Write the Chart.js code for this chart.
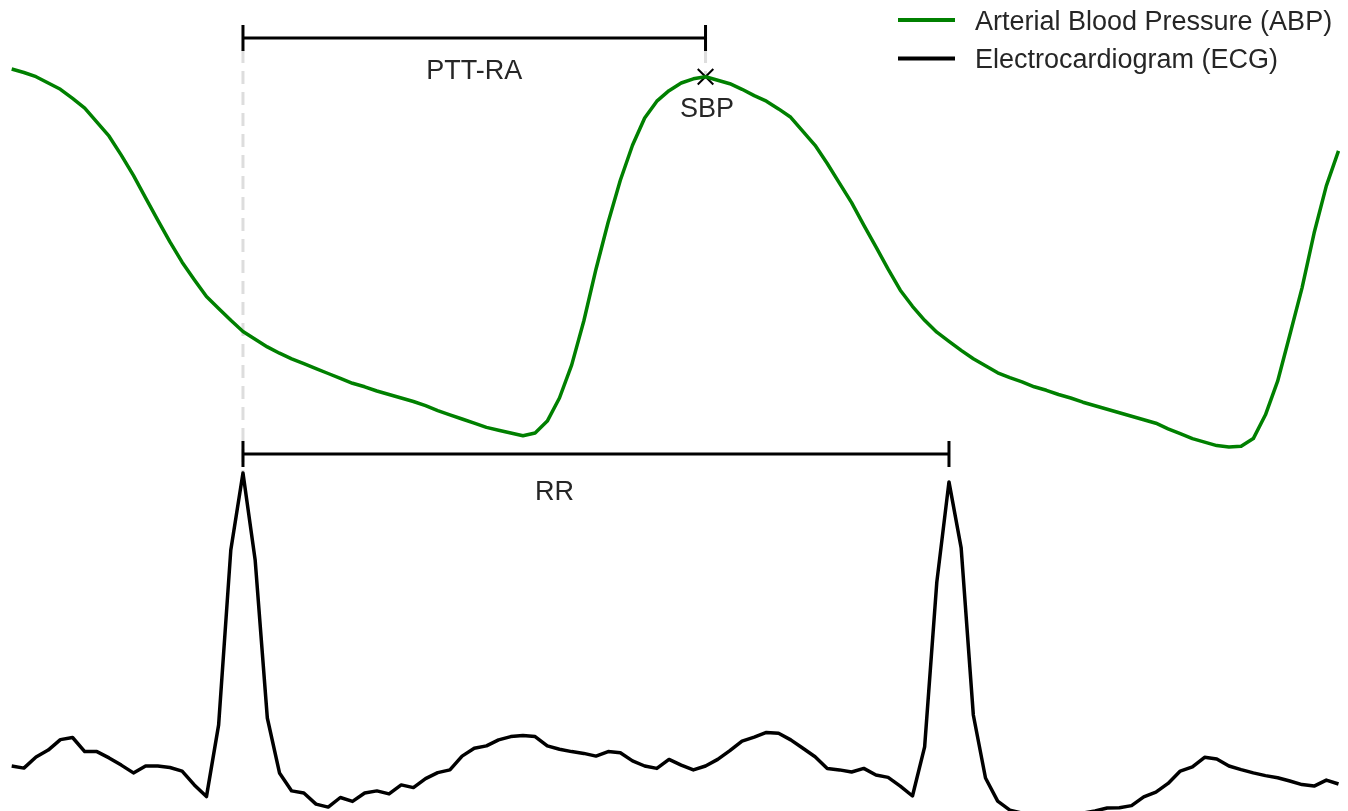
<!DOCTYPE html>
<html>
<head>
<meta charset="utf-8">
<script src="https://cdn.jsdelivr.net/npm/chart.js@4.4.1/dist/chart.umd.min.js"></script>
<style>
  html, body { margin: 0; padding: 0; background: #ffffff; }
  #wrap { width: 1348px; height: 811px; }
</style>
</head>
<body>
<div id="wrap"><canvas id="c" width="1348" height="811"></canvas></div>
<script>
// ---- Data ----
// Arterial blood pressure, mmHg (one value per sample)
const ABP = [
  126.0, 125.5, 124.9, 124.0, 123.1, 121.8, 120.4, 118.4, 116.4, 113.7,
  110.8, 107.6, 104.4, 101.3,  98.4,  95.9,  93.5,  91.8,  90.1,  88.5,
   87.4,  86.3,  85.4,  84.6,  83.9,  83.2,  82.5,  81.8,  81.1,  80.6,
   80.0,  79.5,  79.0,  78.5,  77.9,  77.2,  76.6,  76.0,  75.4,  74.8,
   74.4,  74.0,  73.6,  74.0,  75.7,  79.0,  83.7,  90.0,  97.4, 104.1,
  110.1, 115.1, 119.0, 121.4, 122.9, 124.0, 124.6, 124.9, 124.4, 123.9,
  123.1, 122.2, 121.4, 120.3, 119.1, 117.1, 115.1, 112.5, 109.7, 106.9,
  103.7, 100.6,  97.4,  94.4,  92.1,  90.1,  88.4,  87.1,  85.8,  84.6,
   83.6,  82.6,  81.9,  81.3,  80.6,  80.1,  79.5,  79.0,  78.4,  77.9,
   77.4,  76.9,  76.4,  75.9,  75.4,  74.6,  73.9,  73.2,  72.7,  72.2,
   72.0,  72.1,  73.2,  76.6,  81.4,  88.0,  94.7, 102.6, 109.3, 114.3
];
// Electrocardiogram, mV (same samples)
const ECG = [
   0.020,  0.013,  0.050,  0.073,  0.108,  0.115,  0.068,  0.068,  0.047,  0.023,
  -0.003,  0.020,  0.020,  0.015,  0.003, -0.043, -0.082,  0.157,  0.740,  0.997,
   0.707,  0.180, -0.003, -0.063, -0.070, -0.107, -0.117, -0.085, -0.098, -0.070,
  -0.063, -0.073, -0.043, -0.052, -0.022, -0.002,  0.007,  0.053,  0.079,  0.087,
   0.107,  0.118,  0.122,  0.118,  0.087,  0.076,  0.068,  0.062,  0.053,  0.068,
   0.064,  0.037,  0.020,  0.012,  0.042,  0.023,  0.007,  0.020,  0.042,  0.071,
   0.103,  0.116,  0.132,  0.129,  0.107,  0.079,  0.051,  0.012,  0.007,  0.000,
   0.012, -0.010, -0.018, -0.047, -0.080,  0.084,  0.633,  0.967,  0.747,  0.190,
  -0.020, -0.097, -0.127, -0.137, -0.143, -0.147, -0.147, -0.143, -0.137, -0.130,
  -0.120, -0.119, -0.112, -0.083, -0.067, -0.038,  0.003,  0.017,  0.049,  0.043,
   0.020,  0.008, -0.003, -0.012, -0.019, -0.030, -0.042, -0.047, -0.027, -0.040
];
const SERIES_LABELS = ['Arterial Blood Pressure (ABP)', 'Electrocardiogram (ECG)'];
const SERIES_COLORS = ['#008000', '#000000'];
// Feature sample indices
const R_PEAKS = [19, 77];
const SBP_INDEX = 57;
const ANNOT_TEXT = { ptt: 'PTT-RA', rr: 'RR', sbp: 'SBP' };

const samples = ABP.map((_, i) => i);

const FONT = '27px "Liberation Sans", Arial, Helvetica, sans-serif';
const TEXT_COLOR = '#262626';

const annotPlugin = {
  id: 'annot',
  beforeDatasetsDraw(chart) {
    const ctx = chart.ctx;
    const xs = chart.scales.x, yA = chart.scales.yABP, yE = chart.scales.yECG;
    const xR = xs.getPixelForValue(R_PEAKS[0]);
    const xS = xs.getPixelForValue(SBP_INDEX);
    const pttY = 38;
    ctx.save();
    ctx.strokeStyle = '#dddddd';
    ctx.lineWidth = 3;
    ctx.setLineDash([13, 8]);
    ctx.beginPath();
    ctx.moveTo(xR, pttY + 12);
    ctx.lineTo(xR, yE.getPixelForValue(ECG[R_PEAKS[0]]));
    ctx.moveTo(xS, pttY + 12);
    ctx.lineTo(xS, yA.getPixelForValue(ABP[SBP_INDEX]));
    ctx.stroke();
    ctx.restore();
  },
  afterDatasetsDraw(chart) {
    const ctx = chart.ctx;
    const xs = chart.scales.x, yA = chart.scales.yABP, yE = chart.scales.yECG;
    const xR1 = xs.getPixelForValue(R_PEAKS[0]);
    const xR2 = xs.getPixelForValue(R_PEAKS[1]);
    const xS = xs.getPixelForValue(SBP_INDEX);
    const pttY = 38;
    const rrY = 454;
    const half = 13;
    ctx.save();
    ctx.strokeStyle = '#000000';
    ctx.lineWidth = 3;
    ctx.setLineDash([]);
    ctx.lineCap = 'butt';
    function bracket(x1, x2, y) {
      ctx.beginPath();
      ctx.moveTo(x1, y); ctx.lineTo(x2, y);
      ctx.moveTo(x1, y - half); ctx.lineTo(x1, y + half);
      ctx.moveTo(x2, y - half); ctx.lineTo(x2, y + half);
      ctx.stroke();
    }
    bracket(xR1, xS, pttY);
    bracket(xR1, xR2, rrY);

    ctx.font = FONT;
    ctx.fillStyle = TEXT_COLOR;
    ctx.textAlign = 'center';
    ctx.textBaseline = 'alphabetic';
    ctx.fillText(ANNOT_TEXT.ptt, (xR1 + xS) / 2, pttY + 41);
    ctx.fillText(ANNOT_TEXT.rr, xs.getPixelForValue(44.6), rrY + 45.5);
    const sbpY = yA.getPixelForValue(ABP[SBP_INDEX]);
    ctx.fillText(ANNOT_TEXT.sbp, xS + 1.5, sbpY + 40);

    // legend
    const legX1 = 898, legX2 = 955, textX = 975;
    const rows = [20, 58.5];
    ctx.textAlign = 'left';
    chart.data.datasets.slice(0, 2).forEach((ds, k) => {
      ctx.strokeStyle = ds.borderColor;
      ctx.lineWidth = 4;
      ctx.beginPath();
      ctx.moveTo(legX1, rows[k]);
      ctx.lineTo(legX2, rows[k]);
      ctx.stroke();
      ctx.fillStyle = TEXT_COLOR;
      ctx.fillText(ds.label, textX, rows[k] + 9.5);
    });
    ctx.restore();
  }
};

new Chart(document.getElementById('c'), {
  type: 'line',
  data: {
    labels: samples,
    datasets: [
      {
        label: SERIES_LABELS[0],
        data: ABP,
        yAxisID: 'yABP',
        borderColor: SERIES_COLORS[0],
        borderWidth: 3.5,
        borderJoinStyle: 'round',
        pointRadius: 0,
        tension: 0,
        fill: false
      },
      {
        label: SERIES_LABELS[1],
        data: ECG,
        yAxisID: 'yECG',
        borderColor: SERIES_COLORS[1],
        borderWidth: 3.5,
        borderJoinStyle: 'round',
        pointRadius: 0,
        tension: 0,
        fill: false
      },
      {
        label: 'SBP',
        data: ABP.map((v, i) => (i === SBP_INDEX ? v : null)),
        yAxisID: 'yABP',
        showLine: false,
        pointStyle: 'crossRot',
        pointRadius: 11,
        pointBorderWidth: 2,
        pointBorderColor: '#000000',
        borderColor: '#000000',
        backgroundColor: '#000000'
      }
    ]
  },
  options: {
    responsive: false,
    animation: false,
    devicePixelRatio: 1,
    layout: { autoPadding: false, padding: { left: 11.7, right: 9.5, top: 0, bottom: 0 } },
    plugins: {
      legend: { display: false },
      tooltip: { enabled: false },
      title: { display: false }
    },
    scales: {
      x: { type: 'category', offset: false, display: false },
      yABP: { type: 'linear', position: 'left', min: 20, max: 20 + 811 / 7, display: false },
      yECG: { type: 'linear', position: 'right', min: -0.13, max: 772 / 300, display: false }
    },
    events: []
  },
  plugins: [annotPlugin]
});
</script>
</body>
</html>
